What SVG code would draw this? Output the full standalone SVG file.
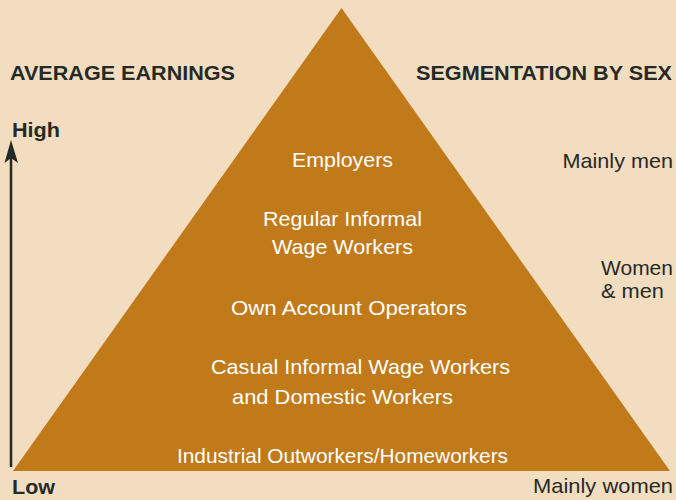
<svg xmlns="http://www.w3.org/2000/svg" width="676" height="500" viewBox="0 0 676 500">
<style>
.hd{font-family:"Liberation Sans",Arial,sans-serif;font-weight:bold;font-size:21px;fill:#262a26}
.lb{font-family:"Liberation Sans",Arial,sans-serif;font-size:21px;fill:#262a26}
.in{font-family:"Liberation Sans",Arial,sans-serif;font-size:21px;fill:#ffffff;text-anchor:middle}
</style>
<rect width="676" height="500" fill="#f3ddc0"/>
<g id="pyramid">
<polygon points="341.5,8 670,471 13,471" fill="#c17a1a"/>
</g>
<g id="headings">
<text class="hd" x="10" y="80" textLength="225" lengthAdjust="spacingAndGlyphs">AVERAGE EARNINGS</text>
<text class="hd" x="416" y="80" textLength="256" lengthAdjust="spacingAndGlyphs">SEGMENTATION BY SEX</text>
</g>
<g id="connectors">
<line x1="11" y1="467" x2="11" y2="158" stroke="#262a26" stroke-width="2.5"/>
<polygon points="11,140 18,163 11,158 4.5,163" fill="#262a26"/>
</g>
<g id="axis-labels">
<text class="hd" x="12" y="137" textLength="48" lengthAdjust="spacingAndGlyphs">High</text>
<text class="hd" x="12" y="494" textLength="43" lengthAdjust="spacingAndGlyphs">Low</text>
</g>
<g id="level-employers"><text class="in" x="342.5" y="167" textLength="101" lengthAdjust="spacingAndGlyphs">Employers</text></g>
<g id="level-regular"><text class="in" x="342.5" y="226" textLength="159" lengthAdjust="spacingAndGlyphs">Regular Informal</text><text class="in" x="342.5" y="254" textLength="141" lengthAdjust="spacingAndGlyphs">Wage Workers</text></g>
<g id="level-own"><text class="in" x="349" y="315" textLength="236" lengthAdjust="spacingAndGlyphs">Own Account Operators</text></g>
<g id="level-casual"><text class="in" x="360.5" y="374" textLength="299" lengthAdjust="spacingAndGlyphs">Casual Informal Wage Workers</text><text class="in" x="342.5" y="404" textLength="221" lengthAdjust="spacingAndGlyphs">and Domestic Workers</text></g>
<g id="level-industrial"><text class="in" x="342.5" y="463" textLength="331" lengthAdjust="spacingAndGlyphs">Industrial Outworkers/Homeworkers</text></g>
<g id="sex-labels">
<text class="lb" x="562.5" y="168" textLength="110.5" lengthAdjust="spacingAndGlyphs">Mainly men</text>
<text class="lb" x="601" y="275" textLength="72" lengthAdjust="spacingAndGlyphs">Women</text>
<text class="lb" x="601" y="298" textLength="63" lengthAdjust="spacingAndGlyphs">&amp; men</text>
<text class="lb" x="533" y="493" textLength="140" lengthAdjust="spacingAndGlyphs">Mainly women</text>
</g>
</svg>
